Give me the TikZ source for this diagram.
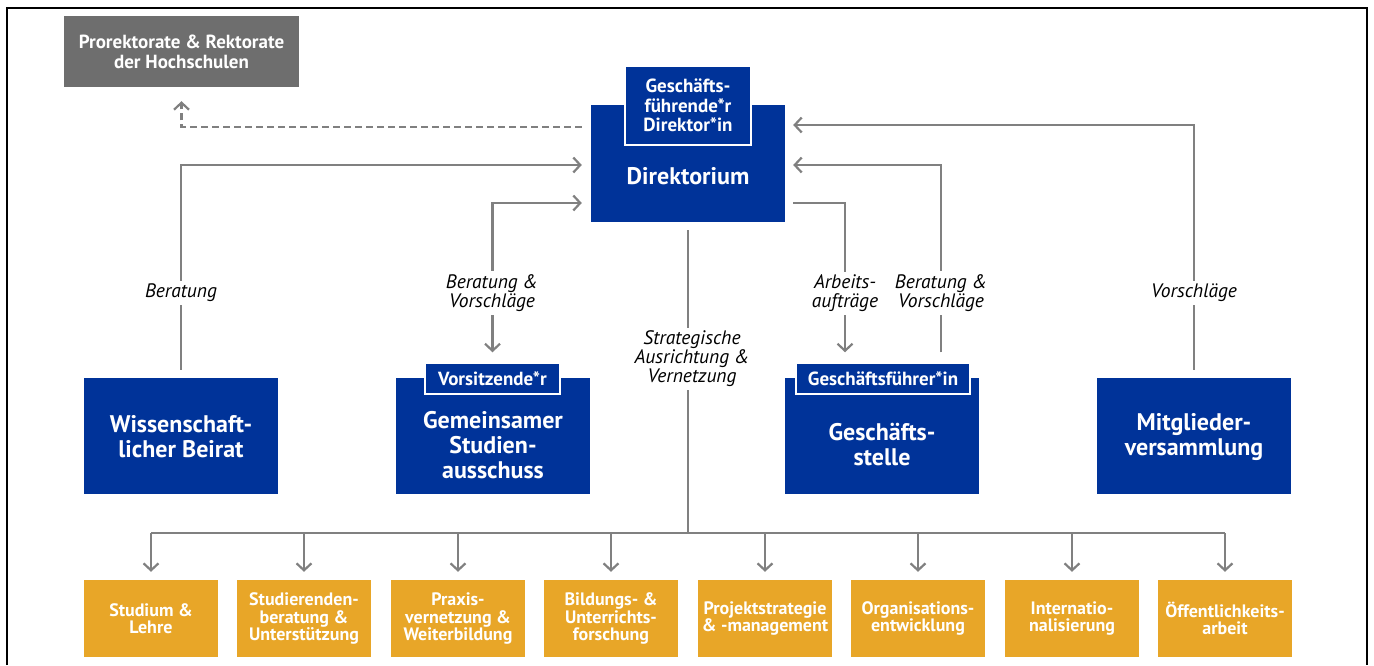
\documentclass[tikz,border=0pt]{standalone}
\usepackage{fontspec}
\setmainfont{PT Sans}
\usepackage{tikz}
\usetikzlibrary{arrows.meta,calc}
\definecolor{dirblue}{HTML}{003399}
\definecolor{unitgold}{HTML}{E8A628}
\definecolor{rekgray}{HTML}{6E6E6E}
\definecolor{conngray}{HTML}{808080}

\begin{document}
\begin{tikzpicture}[x=1pt, y=-1pt,
  body/.style={fill=dirblue, minimum width=194pt, minimum height=116pt, inner sep=0pt},
  bodytext/.style={text=white, font=\fontsize{24}{25}\selectfont\bfseries, align=center},
  tab/.style={fill=dirblue, draw=white, line width=1.5pt, text=white,
              font=\fontsize{19}{19.5}\selectfont\bfseries, align=center, inner sep=0pt},
  unit/.style={fill=unitgold, minimum width=134pt, minimum height=77pt, inner sep=0pt,
               text=white, font=\fontsize{18}{17.5}\selectfont\bfseries, align=center},
  lbl/.style={fill=white, font=\fontsize{19.5}{19}\selectfont\itshape, align=center, inner sep=3pt},
  link/.style={draw=conngray, line width=2.2pt},
  conn/.style={link, -{Straight Barb[length=7pt,width=15pt]}}
]
  \useasboundingbox (0,0) rectangle (1374,665);
  % outer frame (open at the bottom)
  \draw[line width=2.5pt] (7,665) -- (7,8) -- (1367,8) -- (1367,665);

  % Rektorate (top left)
  \node[fill=rekgray, minimum width=235pt, minimum height=71pt, text=white, align=center,
        font=\fontsize{19}{20}\selectfont\bfseries] (rekt) at (181.5,51.5)
    {Prorektorate \& Rektorate\\der Hochschulen};

  % Direktorium with tab
  \node[body, minimum height=117pt] (direk) at (688,163.5) {};
  \node[bodytext] (direktext) at (688,176) {Direktorium};
  \node[tab, minimum width=126pt, minimum height=79pt] (gfd) at (688,105.5)
    {Geschäfts-\\führende*r\\Direktor*in};

  % second row of bodies
  \node[body] (wiss) at (181,436) {};
  \node[bodytext] (wisstext) at (181,437) {Wissenschaft-\\licher Beirat};

  \node[body] (gsa) at (493,436) {};
  \node[bodytext] (gsatext) at (493,445) {Gemeinsamer\\Studien-\\ausschuss};
  \node[tab, minimum width=135pt, minimum height=31pt] (vors) at (492.5,378.5) {Vorsitzende*r};

  \node[body] (gst) at (882,436) {};
  \node[bodytext] (gsttext) at (882,445) {Geschäfts-\\stelle};
  \node[tab, minimum width=174pt, minimum height=31pt] (gf) at (883,378.5) {Geschäftsführer*in};

  \node[body] (mv) at (1194,436) {};
  \node[bodytext] (mvtext) at (1194,437) {Mitglieder-\\versammlung};

  % units (bottom row)
  \node[unit] (u1) at (151,618.5) {Studium \&\\Lehre};
  \node[unit] (u2) at (304,618.5) {Studierenden-\\beratung \&\\Unterstützung};
  \node[unit] (u3) at (458,618.5) {Praxis-\\vernetzung \&\\Weiterbildung};
  \node[unit] (u4) at (611,618.5) {Bildungs- \&\\Unterrichts-\\forschung};
  \node[unit] (u5) at (765,618.5) {Projektstrategie\\\& -management};
  \node[unit] (u6) at (918,618.5) {Organisations-\\entwicklung};
  \node[unit] (u7) at (1072,618.5) {Internatio-\\nalisierung};
  \node[unit] (u8) at (1225,618.5) {Öffentlichkeits-\\arbeit};

  % left side connectors
  \draw[conn, dash pattern=on 7pt off 4pt] ([xshift=-9pt]direk.west |- 0,127) -| ([yshift=-14pt]rekt.south);
  \draw[conn] ([yshift=8pt]wiss.north) |- ([xshift=-9pt]direk.west |- 0,165);
  \draw[conn, {Straight Barb[length=7pt,width=15pt]}-{Straight Barb[length=7pt,width=15pt]}]
    ([yshift=10pt]vors.north) |- ([xshift=-9pt]direk.west |- 0,203);
  \node[lbl] (lb1) at (181,293) {Beratung};
  \node[lbl] (lb2) at (492,293) {Beratung \&\\Vorschläge};

  % right side connectors
  \draw[conn] ([xshift=8pt]direk.east |- 0,203) -| ([xshift=-38pt,yshift=10pt]gf.north);
  \draw[conn] ([xshift=58pt,yshift=10pt]gf.north) |- ([xshift=8pt]direk.east |- 0,165);
  \draw[conn] ([yshift=8pt]mv.north) |- ([xshift=8pt]direk.east |- 0,125);
  \node[lbl] (lb3) at (845,293) {Arbeits-\\aufträge};
  \node[lbl] (lb4) at (941,293) {Beratung \&\\Vorschläge};
  \node[lbl] (lb5) at (1194,293) {Vorschläge};

  % strategic line down to the units
  \coordinate (bus) at (688,533);
  \draw[link] ([yshift=-8pt]direk.south) -- (bus);
  \draw[link] (u1.north |- bus) -- (u8.north |- bus);
  \foreach \i in {1,...,8}
    \draw[conn] (u\i.north |- bus) -- ([yshift=8pt]u\i.north);
  \node[lbl] (lb6) at (692,359) {Strategische\\Ausrichtung \&\\Vernetzung};
\end{tikzpicture}
\end{document}
